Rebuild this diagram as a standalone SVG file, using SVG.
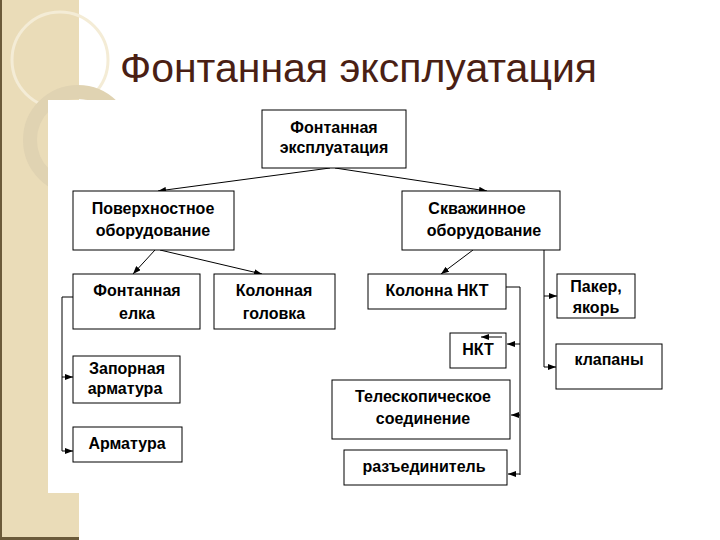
<svg xmlns="http://www.w3.org/2000/svg" width="720" height="540" viewBox="0 0 720 540">
<style>
.b{fill:#fff;stroke:#000;stroke-width:1}
.t{font-family:"Liberation Sans",Arial,sans-serif;font-weight:bold;font-size:16px;fill:#000;text-anchor:middle}
.c{stroke:#000;stroke-width:1;fill:none}
</style>
<defs><marker id="a" markerWidth="8" markerHeight="6" refX="8" refY="3" orient="auto" markerUnits="userSpaceOnUse"><path d="M0,0L8,3L0,6z" fill="#000"/></marker></defs>
<rect width="720" height="540" fill="#fff"/>
<rect x="0" y="0" width="79" height="540" fill="#eadcb8"/>
<circle cx="60" cy="60" r="48" fill="none" stroke="#f4ecd6" stroke-width="3"/>
<circle cx="78" cy="140" r="48" fill="none" stroke="#e0d3b2" stroke-width="14"/>
<rect x="48" y="100" width="672" height="393" fill="#fff"/>
<rect x="0" y="0" width="2" height="540" fill="#6b5a3a"/>
<rect x="0" y="537" width="79" height="3" fill="#6b5a3a"/>
<text x="120" y="82" font-family="'Liberation Sans',Arial,sans-serif" font-size="41" fill="#4a1f14">Фонтанная эксплуатация</text>
<g id="connectors">
<path class="c" marker-end="url(#a)" d="M330,168L158,191"/>
<path class="c" marker-end="url(#a)" d="M335,168L487,191"/>
<path class="c" marker-end="url(#a)" d="M155,250L133,274"/>
<path class="c" marker-end="url(#a)" d="M160,250L262,274"/>
<path class="c" marker-end="url(#a)" d="M473,250L441,274"/>
<path class="c" d="M544,250V367"/>
<path class="c" marker-end="url(#a)" d="M544,296H557"/>
<path class="c" marker-end="url(#a)" d="M544,367H556"/>
<path class="c" d="M506,287H520V475"/>
<path class="c" marker-end="url(#a)" d="M520,344H507"/>
<path class="c" marker-end="url(#a)" d="M520,415H511"/>
<path class="c" marker-end="url(#a)" d="M520,474H508"/>
<path class="c" d="M73,297H62V451"/>
<path class="c" marker-end="url(#a)" d="M62,377H73"/>
<path class="c" marker-end="url(#a)" d="M62,451H73"/>
</g>
<g id="n1"><rect class="b" x="262" y="110" width="144" height="58"/><text class="t" x="334" y="133">Фонтанная</text><text class="t" x="334" y="153">эксплуатация</text></g>
<g id="n2"><rect class="b" x="73" y="191" width="161" height="59"/><text class="t" x="153" y="214">Поверхностное</text><text class="t" x="153" y="236">оборудование</text></g>
<g id="n3"><rect class="b" x="402" y="191" width="158" height="59"/><text class="t" x="477" y="214">Скважинное</text><text class="t" x="484" y="236">оборудование</text></g>
<g id="n4"><rect class="b" x="73" y="274" width="127" height="55"/><text class="t" x="137" y="296">Фонтанная</text><text class="t" x="137" y="319">елка</text></g>
<g id="n5"><rect class="b" x="214" y="274" width="121" height="55"/><text class="t" x="274" y="296">Колонная</text><text class="t" x="274" y="319">головка</text></g>
<g id="n6"><rect class="b" x="73" y="356" width="107" height="47"/><text class="t" x="127" y="374">Запорная</text><text class="t" x="125" y="394">арматура</text></g>
<g id="n7"><rect class="b" x="73" y="427" width="109" height="35"/><text class="t" x="127" y="449">Арматура</text></g>
<g id="n8"><rect class="b" x="368" y="274" width="138" height="35"/><text class="t" x="437" y="296">Колонна НКТ</text></g>
<g id="n9"><rect class="b" x="450" y="333" width="56" height="35"/><text class="t" x="478" y="355">НКТ</text><path class="c" marker-end="url(#a)" d="M502,337H481"/></g>
<g id="n10"><rect class="b" x="332" y="380" width="178" height="59"/><text class="t" x="423" y="402">Телескопическое</text><text class="t" x="423" y="424">соединение</text></g>
<g id="n11"><rect class="b" x="344" y="450" width="163" height="35"/><text class="t" x="424" y="472">разъединитель</text></g>
<g id="n12"><rect class="b" x="557" y="274" width="78" height="44"/><text class="t" x="596" y="292">Пакер,</text><text class="t" x="596" y="313">якорь</text></g>
<g id="n13"><rect class="b" x="556" y="344" width="106" height="45"/><text class="t" x="609" y="365">клапаны</text></g>
</svg>
